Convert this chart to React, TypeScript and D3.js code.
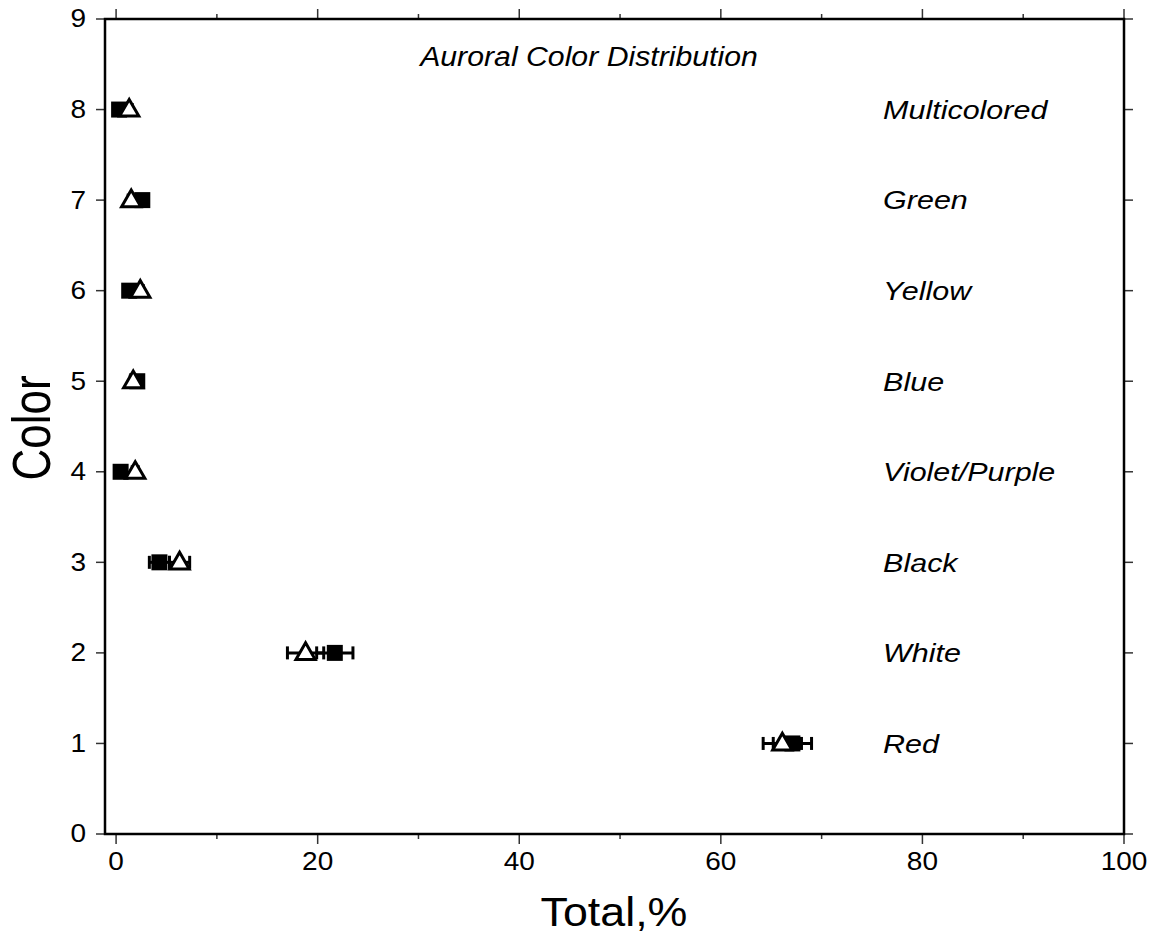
import React, { useEffect, useRef } from "react";
import * as d3 from "d3";

// color categories, bottom (1) to top (8)
const categories = ["Red", "White", "Black", "Violet/Purple", "Blue", "Yellow", "Green", "Multicolored"];
const levels = [1, 2, 3, 4, 5, 6, 7, 8];

// filled squares
const squareValues = [67.1, 21.7, 4.3, 0.45, 2.1, 1.3, 2.6, 0.3];
const squareErrors = [1.9, 1.8, 1.0, 0.3, 0.3, 0.3, 0.3, 0.3];

// open triangles
const triangleValues = [66.1, 18.8, 6.3, 1.9, 1.7, 2.4, 1.5, 1.3];
const triangleErrors = [1.9, 1.8, 1.0, 0.3, 0.3, 0.3, 0.3, 0.3];

const xTicks = [0, 20, 40, 60, 80, 100];
const xMinorTicks = [10, 30, 50, 70, 90];
const yTicks = [0, 1, 2, 3, 4, 5, 6, 7, 8, 9];

const title = "Auroral Color Distribution";
const xLabel = "Total,%";
const yLabel = "Color";

const FONT = "'Liberation Sans', Arial, Helvetica, sans-serif";

export default function App() {
  const ref = useRef<SVGSVGElement | null>(null);

  useEffect(() => {
    const width = 1152;
    const height = 941;
    const frame = { left: 105, right: 1124, top: 19, bottom: 834 };

    const svg = d3.select(ref.current);
    svg.selectAll("*").remove();
    svg.attr("width", width).attr("height", height);

    const x = d3.scaleLinear().domain([-1.1, 100]).range([frame.left, frame.right]);
    const y = d3.scaleLinear().domain([0, 9]).range([frame.bottom, frame.top]);

    // glyphs in the reference are a bit wider than the font, so stretch with sx
    const label = (
      px: number,
      py: number,
      txt: string,
      size: number,
      sx: number,
      anchor: string,
      italic = false,
      rotate = 0
    ) => {
      svg
        .append("g")
        .attr("transform", `translate(${px},${py}) scale(${sx},1) rotate(${rotate})`)
        .append("text")
        .attr("text-anchor", anchor)
        .attr("dominant-baseline", "central")
        .style("font-family", FONT)
        .style("font-size", `${size}px`)
        .style("font-style", italic ? "italic" : "normal")
        .attr("fill", "#000")
        .text(txt);
    };

    // ticks
    const tickG = svg.append("g").attr("stroke", "#333").attr("stroke-width", 1.5);
    yTicks.forEach((t) => {
      tickG.append("line").attr("x1", frame.left - 9).attr("x2", frame.left).attr("y1", y(t)).attr("y2", y(t));
      tickG.append("line").attr("x1", frame.right).attr("x2", frame.right + 9).attr("y1", y(t)).attr("y2", y(t));
    });
    xTicks.forEach((t) => {
      tickG.append("line").attr("x1", x(t)).attr("x2", x(t)).attr("y1", frame.bottom).attr("y2", frame.bottom + 10);
      tickG.append("line").attr("x1", x(t)).attr("x2", x(t)).attr("y1", frame.top - 10).attr("y2", frame.top);
    });
    xMinorTicks.forEach((t) => {
      tickG.append("line").attr("x1", x(t)).attr("x2", x(t)).attr("y1", frame.bottom).attr("y2", frame.bottom + 5);
      tickG.append("line").attr("x1", x(t)).attr("x2", x(t)).attr("y1", frame.top - 5).attr("y2", frame.top);
    });

    // frame
    svg
      .append("rect")
      .attr("x", frame.left)
      .attr("y", frame.top)
      .attr("width", frame.right - frame.left)
      .attr("height", frame.bottom - frame.top)
      .attr("fill", "none")
      .attr("stroke", "#000")
      .attr("stroke-width", 2.5);

    // tick labels
    yTicks.forEach((t) => label(frame.left - 19, y(t), String(t), 25, 1.12, "end"));
    xTicks.forEach((t) => label(x(t), frame.bottom + 28, String(t), 25, 1.12, "middle"));

    // axis titles
    label(614, 912, xLabel, 40, 1.12, "middle");
    label(32, 428, yLabel, 44, 1.2, "middle", false, -90);
    label(589, 57, title, 27, 1.12, "middle", true);

    // category names
    levels.forEach((lv, i) => label(x(76.1), y(lv), categories[i], 26.5, 1.15, "start", true));

    const marks = svg.append("g");
    const cap = 6.5;

    const errorBars = (vals: number[], errs: number[]) => {
      vals.forEach((v, i) => {
        const cy = y(levels[i]);
        const g = marks.append("g").attr("stroke", "#000").attr("stroke-width", 3);
        g.append("line").attr("x1", x(v - errs[i])).attr("x2", x(v + errs[i])).attr("y1", cy).attr("y2", cy);
        g.append("line").attr("x1", x(v - errs[i])).attr("x2", x(v - errs[i])).attr("y1", cy - cap).attr("y2", cy + cap);
        g.append("line").attr("x1", x(v + errs[i])).attr("x2", x(v + errs[i])).attr("y1", cy - cap).attr("y2", cy + cap);
      });
    };

    errorBars(squareValues, squareErrors);
    errorBars(triangleValues, triangleErrors);

    // squares
    const sq = 16;
    marks
      .selectAll("rect.sq")
      .data(squareValues)
      .join("rect")
      .attr("class", "sq")
      .attr("x", (d) => x(d) - sq / 2)
      .attr("y", (d, i) => y(levels[i]) - sq / 2)
      .attr("width", sq)
      .attr("height", sq)
      .attr("fill", "#000");

    // triangles
    const tri = d3.symbol().type(d3.symbolTriangle).size(160);
    marks
      .selectAll("path.tri")
      .data(triangleValues)
      .join("path")
      .attr("class", "tri")
      .attr("d", tri)
      .attr("transform", (d, i) => `translate(${x(d)},${y(levels[i]) + 1})`)
      .attr("fill", "#fff")
      .attr("stroke", "#000")
      .attr("stroke-width", 3)
      .attr("stroke-linejoin", "miter");
  }, []);

  return <svg ref={ref} style={{ position: "absolute", left: 0, top: 0, background: "#fff" }} />;
}
